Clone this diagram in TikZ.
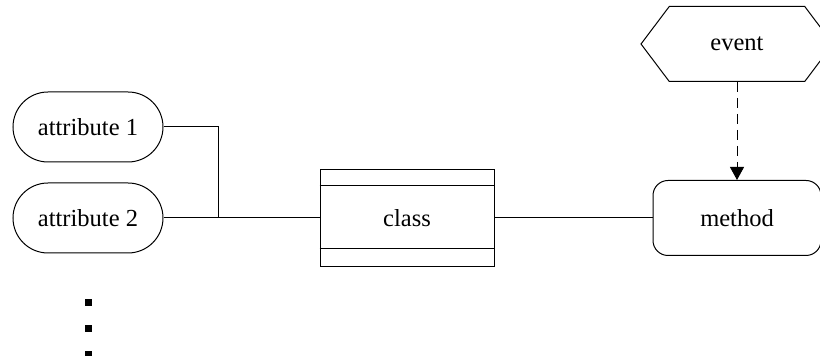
\documentclass[tikz,border=0pt]{standalone}
\usepackage{fontspec}
\setmainfont{Liberation Serif}
\usetikzlibrary{positioning,shapes.symbols,shapes.misc,arrows.meta}

\tikzset{
  every node/.style={font=\rmfamily\fontsize{12.25}{14}\selectfont},
  attr/.style={draw, rounded rectangle, minimum width=75pt, minimum height=35pt, inner sep=0pt},
  classbox/.style={draw, rectangle, minimum width=87pt, minimum height=48.5pt, inner sep=0pt},
  methbox/.style={draw, rectangle, rounded corners=7.5pt, minimum width=84pt, minimum height=37.5pt, inner sep=0pt},
  evtbox/.style={draw, signal, signal to=west and east, signal pointer angle=106,
    minimum width=96pt, minimum height=37.5pt, inner sep=0pt},
  morebox/.style={fill, rectangle, minimum size=3.5pt, inner sep=0pt},
  link/.style={line width=0.5pt},
  trigger/.style={line width=0.5pt, dash pattern=on 5pt off 3pt, -{Triangle[width=7pt,length=6.5pt]}},
}

\begin{document}
\begin{tikzpicture}[x=0.5pt, y=-0.5pt, line width=0.5pt]
    \useasboundingbox (0,0) rectangle (820,356);
    % Nodes
    \node[attr] (attrA) at (88,127) {attribute 1} ; %
    \node[attr, below=10pt of attrA] (attrB) {attribute 2} ; %
    \node[classbox, right=78pt of attrB] (cls) {class} ; %
    \node[methbox, right=79pt of cls] (meth) {method} ; %
    \node[evtbox, above=49pt of meth] (evt) {event} ; %
    \node[morebox, below=22.5pt of attrB] (moreA) {} ; %
    \node[morebox, below=9pt of moreA] (moreB) {} ; %
    \node[morebox, below=9pt of moreB] (moreC) {} ; %
    % compartments of the class box
    \draw[link] ([yshift=-8.5pt]cls.north west) -- ([yshift=-8.5pt]cls.north east) ; %
    \draw[link] ([yshift=9pt]cls.south west) -- ([yshift=9pt]cls.south east) ; %
    % Connectors
    \coordinate[right=27.5pt of attrB.east] (join) ; %
    \draw[link] (attrA.east) -| (join) ; %
    \draw[link] (attrB.east) -- (cls.west) ; %
    \draw[link] (cls.east) -- (meth.west) ; %
    \draw[trigger] (evt.south) -- (meth.north) ; %
  \end{tikzpicture}
\end{document}
